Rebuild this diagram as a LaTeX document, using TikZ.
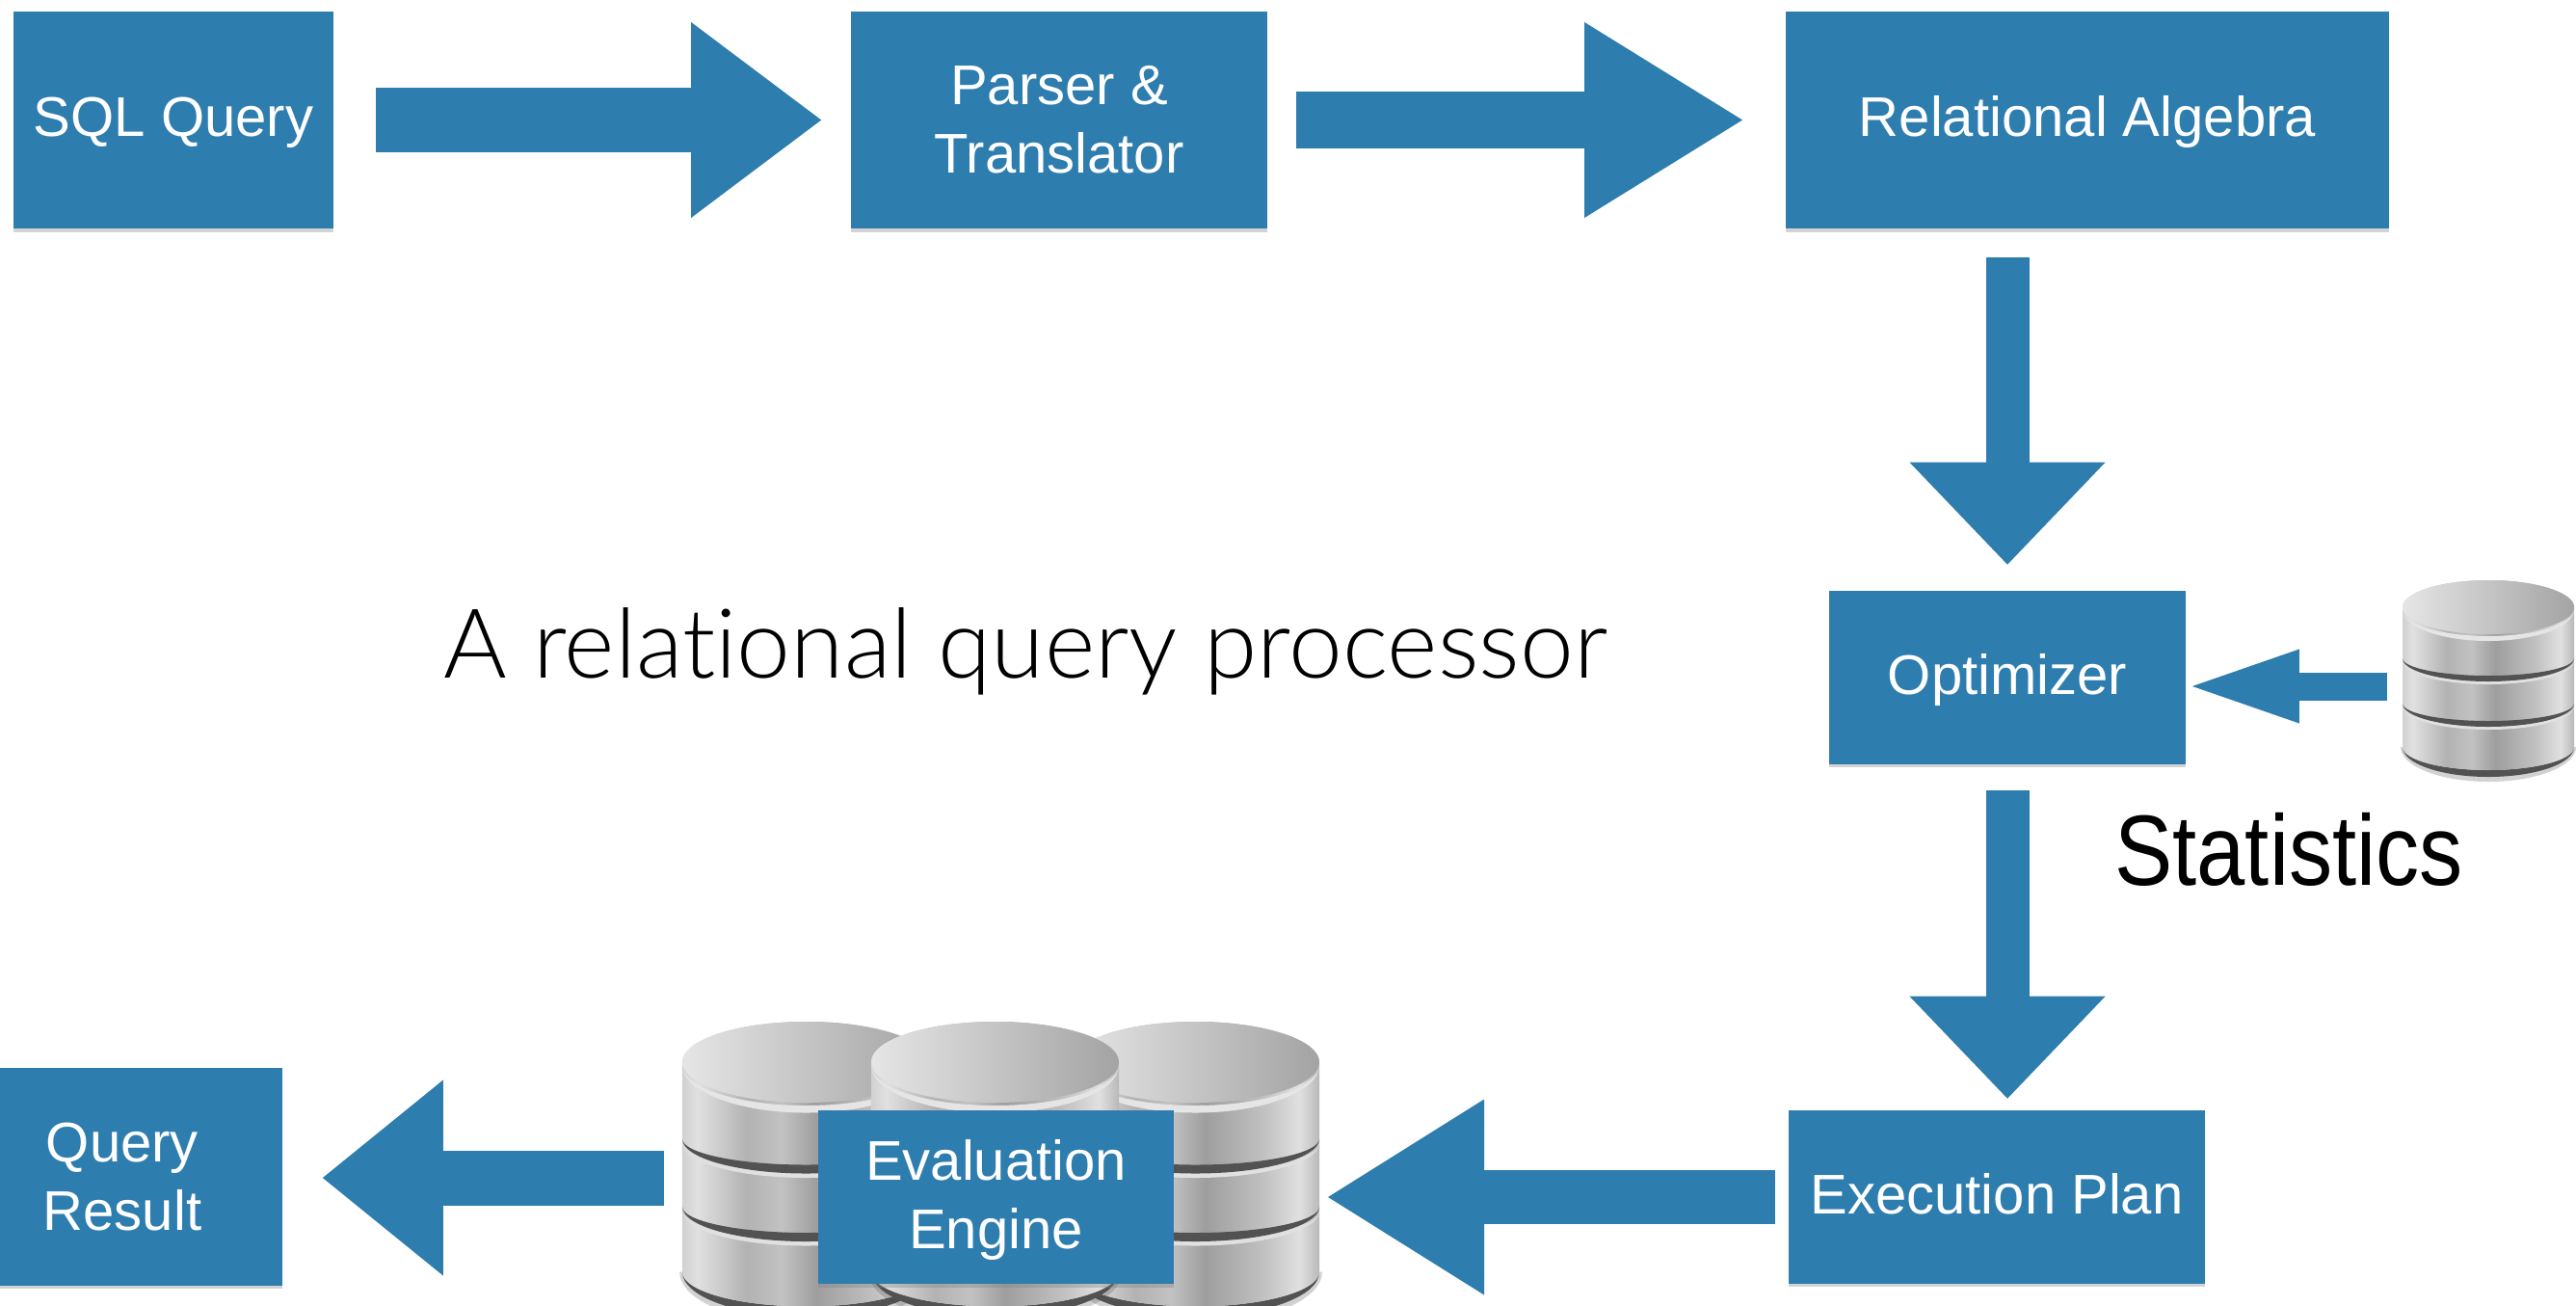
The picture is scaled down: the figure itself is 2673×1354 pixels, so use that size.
\documentclass[tikz,border=0pt]{standalone}
\usepackage{fontspec}
\setmainfont{Liberation Sans}
\newfontfamily\lightfont{Lato Light}[Ligatures=NoCommon]
\newfontfamily\narrowfont{Liberation Sans}[FakeStretch=0.87]
\usetikzlibrary{arrows.meta,shadows}
\definecolor{boxblue}{HTML}{2E7DAF}
\pgfdeclarehorizontalshading{dbbody}{100bp}{color(0bp)=(black!25); color(25bp)=(black!18); color(28bp)=(black!12); color(38bp)=(black!30); color(45bp)=(black!24); color(52bp)=(black!38); color(64bp)=(black!24); color(71bp)=(black!12); color(75bp)=(black!28); color(100bp)=(black!28)}
\tikzset{
  flowbox/.style = {fill = boxblue, text = white, inner sep = 0pt, align = center, font = \fontsize{16.5}{20.2}\selectfont, drop shadow = {shadow xshift = 0pt, shadow yshift = -1pt, opacity = 0.35}},
  oneline/.style = {text height = 12pt, text depth = 2.3pt},
  bigarrow/.style n args = {3}{draw = boxblue, line width = #1cm, -{Triangle[length=#2cm, width=#3cm, fill = boxblue, line width=0pt]}},
  dbcyl/.pic = {
    \fill [black!70, opacity = 0.25] (-91,145) arc (180:0:91 and 36) -- cycle;
    \fill [black!68] (-89,145) arc (180:0:89 and 31) arc (0:180:89 and 24) -- cycle;
    \shade [shading = dbbody] (-89,0) -- (-89,145) arc (180:0:89 and 24) -- (89,0) arc (0:-180:89 and 28) -- cycle;
    \foreach \bandy in {53,100} {
      \fill [white!88!black] (-89,\bandy+3) arc (180:0:89 and 24) arc (0:180:89 and 20) -- cycle;
      \fill [black!68] (-89,\bandy) arc (180:0:89 and 24) arc (0:180:89 and 18) -- cycle;
    }
    \fill [white!90!black] (-89,2) arc (180:0:89 and 33) arc (0:180:89 and 28) -- cycle;
    \shade [shading angle = 65, left color = black!10, right color = black!36] (0,0) ellipse (89 and 28);
  },
}
\begin{document}
\begin{tikzpicture}[x = 0.01cm, y = -0.01cm]
\useasboundingbox (0,0) rectangle (2673,1354);
% boxes of the flow
\node [flowbox, oneline, minimum width = 3.32cm, minimum height = 2.25cm] (sql) at (180,124.5) {SQL Query};
\node [flowbox, minimum width = 4.32cm, minimum height = 2.25cm] (parser) at (1099,124.5) {Parser \&\\Translator};
\node [flowbox, oneline, minimum width = 6.26cm, minimum height = 2.25cm] (relational) at (2166,124.5) {Relational Algebra};
\node [flowbox, oneline, minimum width = 3.70cm, minimum height = 1.79cm] (optimizer) at (2083,703) {Optimizer};
\node [flowbox, oneline, minimum width = 4.31cm, minimum height = 1.79cm] (plan) at (2072,1242) {Execution Plan};
\node [flowbox, minimum width = 3.32cm, minimum height = 2.25cm] (result) at (127,1221) {Query\\Result};
% the disks
\pic [xscale = 1.444, yscale = 1.5] at (836.5,1102) {dbcyl};
\pic [xscale = 1.444, yscale = 1.5] at (1240.5,1102) {dbcyl};
\pic [xscale = 1.444, yscale = 1.5] at (1032.5,1102) {dbcyl};
\pic at (2582,630) {dbcyl};
\node [flowbox, text height = 34pt, text depth = 3.5pt, minimum width = 3.69cm, minimum height = 1.80cm] (engine) at (1033.5,1242) {Evaluation\\Engine};
\coordinate (dbright) at (1369,1242);
\coordinate (dbleft) at (708,1222);
\coordinate (dbstat) at (2493,712);
% arrows
\draw [bigarrow = {0.67}{1.35}{2.03}, shorten < = 0.43cm, shorten > = 0.30cm] (sql.east) -- (parser.west);
\draw [bigarrow = {0.58}{1.64}{2.03}, shorten < = 0.29cm, shorten > = 0.44cm] (parser.east) -- (relational.west);
\draw [bigarrow = {0.45}{1.06}{2.03}, shorten < = 0.29cm, shorten > = 0.27cm] (relational.south -| optimizer.north) -- (optimizer.north);
\draw [bigarrow = {0.45}{1.06}{2.03}, shorten < = 0.27cm, shorten > = 0.12cm] (optimizer.south) -- (plan.north -| optimizer.south);
\draw [bigarrow = {0.56}{1.62}{2.03}, shorten < = 0.14cm, shorten > = 0.09cm] (plan.west) -- (dbright);
\draw [bigarrow = {0.57}{1.25}{2.03}, shorten < = 0.19cm, shorten > = 0.41cm] (dbleft) -- (result.east |- dbleft);
\draw [bigarrow = {0.29}{1.11}{0.77}, shorten < = 0.16cm, shorten > = 0.06cm] (dbstat) -- (optimizer.east |- dbstat);
% captions
\node [font = \lightfont\fontsize{28.5}{36}\selectfont] (caption) at (1064,676) {A relational query processor};
\node [font = \narrowfont\fontsize{29.5}{36}\selectfont] (stats) at (2375,881) {Statistics};
\end{tikzpicture}
\end{document}
